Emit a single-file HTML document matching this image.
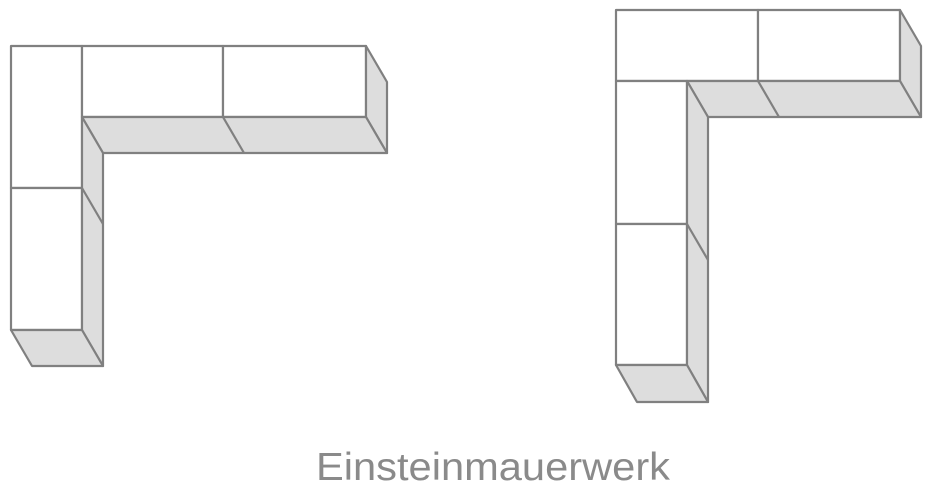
<!DOCTYPE html>
<html><head><meta charset="utf-8"><style>
html,body{margin:0;padding:0;background:#fff;width:930px;height:488px;overflow:hidden}
</style></head><body>
<svg width="930" height="488" viewBox="0 0 930 488" xmlns="http://www.w3.org/2000/svg">
<g stroke="#808080" stroke-width="2.2" stroke-linejoin="round" fill="#fff">
<rect x="11" y="46" width="71" height="142"/>
<rect x="11" y="188" width="71" height="142"/>
<rect x="82" y="46" width="141" height="71"/>
<rect x="223" y="46" width="143" height="71"/>
<g fill="#dddddd">
<polygon points="366,46 387,82 387,153 366,117"/>
<polygon points="82,117 366,117 387,153 103,153"/>
<polygon points="82,117 103,153 103,366 82,330"/>
<polygon points="11,330 82,330 103,366 32,366"/>
</g>
<line x1="223" y1="117" x2="244" y2="153"/>
<line x1="82" y1="188" x2="103" y2="224"/>
<rect x="616" y="10" width="142" height="71"/>
<rect x="758" y="10" width="142" height="71"/>
<rect x="616" y="81" width="71" height="143"/>
<rect x="616" y="224" width="71" height="141"/>
<g fill="#dddddd">
<polygon points="900,10 921,46 921,117 900,81"/>
<polygon points="687,81 900,81 921,117 708,117"/>
<polygon points="687,81 708,117 708,402 687,365"/>
<polygon points="616,365 687,365 708,402 637,402"/>
</g>
<line x1="758" y1="81" x2="779" y2="117"/>
<line x1="687" y1="224" x2="708" y2="260"/>
</g>
<text x="316" y="480" textLength="354" lengthAdjust="spacingAndGlyphs" font-family="Liberation Sans, sans-serif" font-size="39" fill="#8a8a8a">Einsteinmauerwerk</text>
</svg>
</body></html>
